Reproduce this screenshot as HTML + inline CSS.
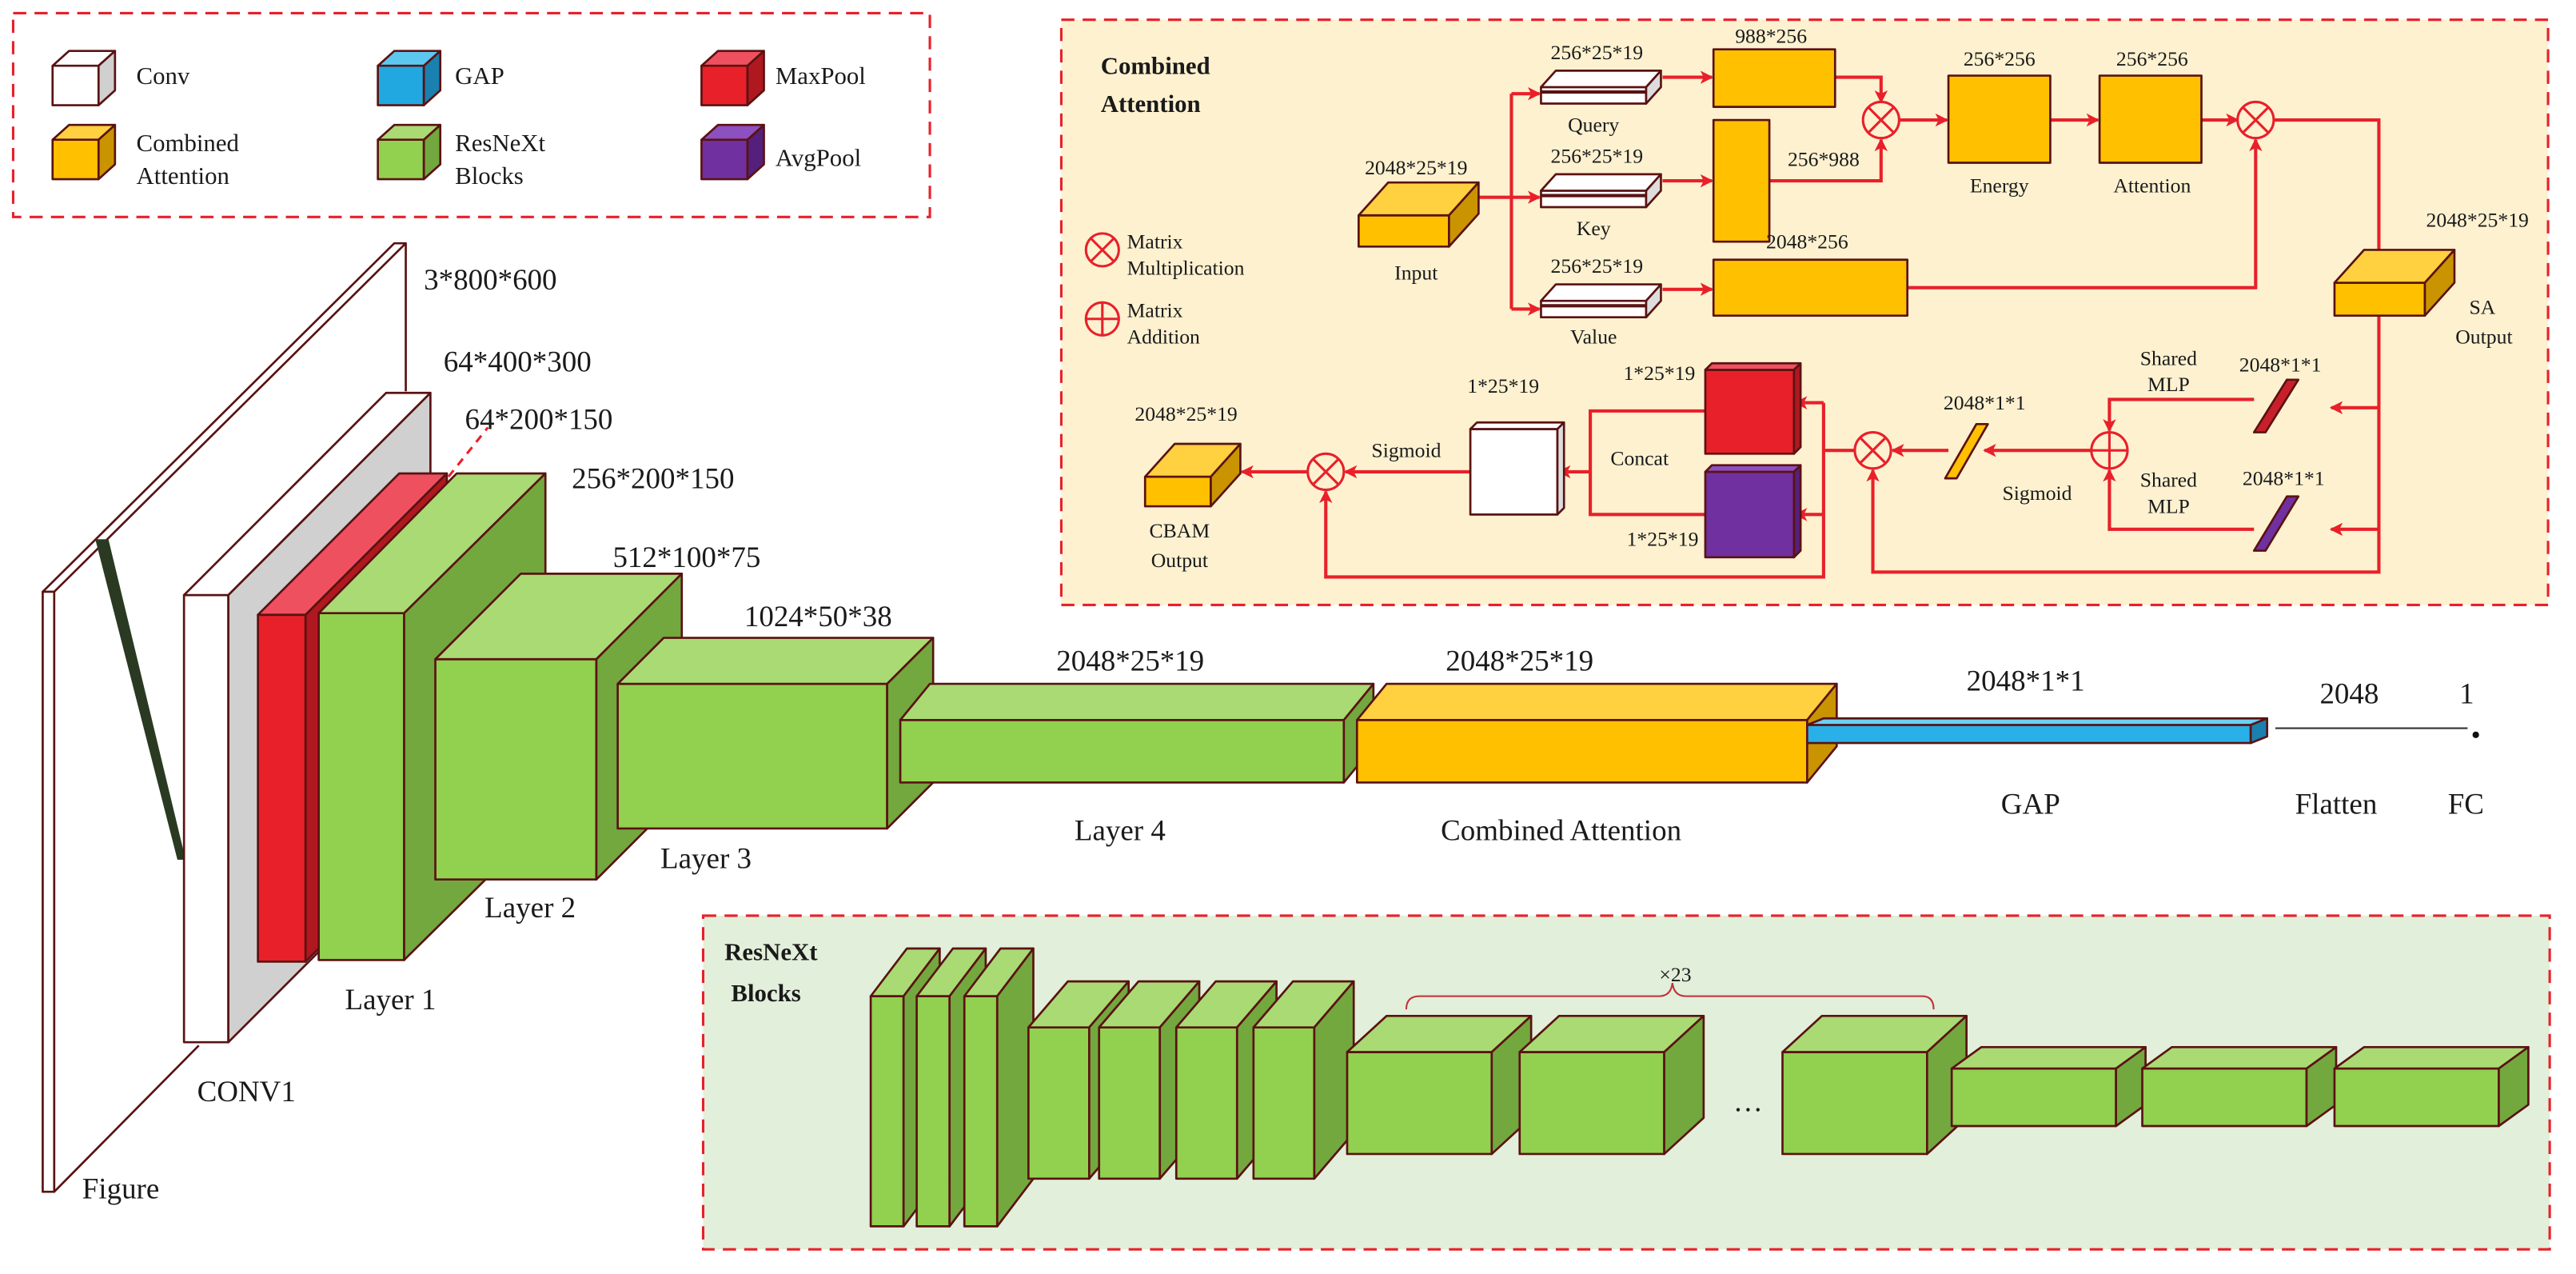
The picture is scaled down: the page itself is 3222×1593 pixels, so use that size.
<!DOCTYPE html>
<html><head><meta charset="utf-8"><style>
html,body{margin:0;padding:0;background:#fff;}
svg{display:block;font-family:"Liberation Serif",serif;}
text{font-family:"Liberation Serif",serif;fill:#1a1a1a;}
.m{font-size:18px;font-family:"Liberation Serif",serif;}
.s{font-size:12.5px;font-family:"Liberation Serif",serif;}
.l{font-size:15px;font-family:"Liberation Serif",serif;}
.b{font-weight:bold;}
.k{stroke:#5a1212;stroke-width:1.3;stroke-linejoin:round;}
.r{stroke:#e8202a;stroke-width:2;fill:none;}
</style></head><body>
<svg width="3222" height="1593" viewBox="0 0 1568 775" preserveAspectRatio="none" xmlns="http://www.w3.org/2000/svg" font-family="Liberation Serif, serif">
<defs>
<marker id="a" markerWidth="8" markerHeight="8" refX="7" refY="4" orient="auto" markerUnits="userSpaceOnUse"><path d="M0,0 L8,4 L0,8 L2,4 z" fill="#e8202a"/></marker>
</defs>
<rect width="1568" height="775" fill="#fff"/>

<!-- Legend -->
<rect x="8" y="8" width="558" height="124" fill="none" stroke="#e8202a" stroke-width="1.5" stroke-dasharray="8,5"/>
<g class="k">
<rect x="32" y="40" width="28" height="24" fill="#fff"/><polygon points="32,40 42,31 70,31 60,40" fill="#fff"/><polygon points="60,40 70,31 70,55 60,64" fill="#d0d0d0"/>
<rect x="32" y="85" width="28" height="24" fill="#ffc000"/><polygon points="32,85 42,76 70,76 60,85" fill="#ffd040"/><polygon points="60,85 70,76 70,100 60,109" fill="#c99400"/>
<rect x="230" y="40" width="28" height="24" fill="#22a8e0"/><polygon points="230,40 240,31 268,31 258,40" fill="#5cc8f0"/><polygon points="258,40 268,31 268,55 258,64" fill="#1a80b0"/>
<rect x="230" y="85" width="28" height="24" fill="#92d050"/><polygon points="230,85 240,76 268,76 258,85" fill="#a9da74"/><polygon points="258,85 268,76 268,100 258,109" fill="#72a83e"/>
<rect x="427" y="40" width="28" height="24" fill="#e8202a"/><polygon points="427,40 437,31 465,31 455,40" fill="#ee5060"/><polygon points="455,40 465,31 465,55 455,64" fill="#b01820"/>
<rect x="427" y="85" width="28" height="24" fill="#7030a0"/><polygon points="427,85 437,76 465,76 455,85" fill="#8c50c0"/><polygon points="455,85 465,76 465,100 455,109" fill="#55207c"/>
</g>
<text class="l" x="83" y="51">Conv</text>
<text class="l" x="83" y="92">Combined</text><text class="l" x="83" y="112">Attention</text>
<text class="l" x="277" y="51">GAP</text>
<text class="l" x="277" y="92">ResNeXt</text><text class="l" x="277" y="112">Blocks</text>
<text class="l" x="472" y="51">MaxPool</text>
<text class="l" x="472" y="101">AvgPool</text>

<!-- Attention box -->
<rect x="646" y="12" width="905" height="356" fill="#fdf1d0" stroke="#e8202a" stroke-width="1.5" stroke-dasharray="8,5"/>
<text class="l b" x="670" y="45">Combined</text><text class="l b" x="670" y="68">Attention</text>
<g stroke="#e8202a" stroke-width="1.5" fill="none">
<circle cx="671" cy="152" r="10"/><path d="M664,145 L678,159 M678,145 L664,159"/>
<circle cx="671" cy="194" r="10"/><path d="M661,194 L681,194 M671,184 L671,204"/>
</g>
<text class="s" x="686" y="151">Matrix</text><text class="s" x="686" y="167">Multiplication</text>
<text class="s" x="686" y="193">Matrix</text><text class="s" x="686" y="209">Addition</text>

<!-- connectors -->
<g class="r">
<path d="M900,120 L920,120"/>
<path d="M920,57 L920,188"/>
<path d="M920,57 L937,57" marker-end="url(#a)"/>
<path d="M920,120 L937,120" marker-end="url(#a)"/>
<path d="M920,188 L937,188" marker-end="url(#a)"/>
<path d="M1012,47 L1042,47" marker-end="url(#a)"/>
<path d="M1012,110 L1042,110" marker-end="url(#a)"/>
<path d="M1012,176 L1042,176" marker-end="url(#a)"/>
<path d="M1117,47 L1145,47 L1145,62" marker-end="url(#a)"/>
<path d="M1077,110 L1145,110 L1145,85" marker-end="url(#a)"/>
<path d="M1156,73 L1185,73" marker-end="url(#a)"/>
<path d="M1248,73 L1277,73" marker-end="url(#a)"/>
<path d="M1340,73 L1362,73" marker-end="url(#a)"/>
<path d="M1161,175 L1373,175 L1373,85" marker-end="url(#a)"/>
<path d="M1384,73 L1448,73 L1448,171" marker-end="url(#a)"/>
<path d="M1448,192 L1448,348 L1140,348 L1140,286" marker-end="url(#a)"/>
<path d="M1448,248 L1419,248" marker-end="url(#a)"/>
<path d="M1448,322 L1419,322" marker-end="url(#a)"/>
<path d="M1372,243 L1284,243 L1284,262" marker-end="url(#a)"/>
<path d="M1372,322 L1284,322 L1284,286" marker-end="url(#a)"/>
<path d="M1273,274 L1208,274" marker-end="url(#a)"/>
<path d="M1186,274 L1152,274" marker-end="url(#a)"/>
<path d="M1129,274 L1110,274"/>
<path d="M1110,245 L1110,351 L807,351 L807,299" marker-end="url(#a)"/>
<path d="M1110,245 L1093,245" marker-end="url(#a)"/>
<path d="M1110,313 L1093,313" marker-end="url(#a)"/>
<path d="M1038,250 L968,250 L968,313 L1038,313"/>
<path d="M968,287 L949,287" marker-end="url(#a)"/>
<path d="M895,287 L819,287" marker-end="url(#a)"/>
<path d="M796,287 L756,287" marker-end="url(#a)"/>
</g>
<g stroke="#e8202a" stroke-width="1.5" fill="#fdf1d0">
<circle cx="1145" cy="73" r="11"/><circle cx="1373" cy="73" r="11"/><circle cx="1140" cy="274" r="11"/><circle cx="807" cy="287" r="11"/><circle cx="1284" cy="274" r="11"/>
</g>
<g stroke="#e8202a" stroke-width="1.5">
<path d="M1137,65 L1153,81 M1153,65 L1137,81"/>
<path d="M1365,65 L1381,81 M1381,65 L1365,81"/>
<path d="M1132,266 L1148,282 M1148,266 L1132,282"/>
<path d="M799,279 L815,295 M815,279 L799,295"/>
<path d="M1273,274 L1295,274 M1284,263 L1284,285"/>
</g>

<g class="k">
<rect x="827" y="131" width="55" height="19" fill="#ffc000"/><polygon points="827,131 845,111 900,111 882,131" fill="#ffd040"/><polygon points="882,131 900,111 900,130 882,150" fill="#c99400"/>
<rect x="938" y="53" width="64" height="10" fill="#fff"/><polygon points="938,53 947,43 1011,43 1002,53" fill="#fff"/><polygon points="1002,53 1011,43 1011,53 1002,63" fill="#ddd"/>
<rect x="938" y="116" width="64" height="10" fill="#fff"/><polygon points="938,116 947,106 1011,106 1002,116" fill="#fff"/><polygon points="1002,116 1011,106 1011,116 1002,126" fill="#ddd"/>
<rect x="938" y="183" width="64" height="10" fill="#fff"/><polygon points="938,183 947,173 1011,173 1002,183" fill="#fff"/><polygon points="1002,183 1011,173 1011,183 1002,193" fill="#ddd"/>
<path d="M938,56 L1002,56 M938,119 L1002,119 M938,186 L1002,186" fill="none" stroke-width="2"/>
<rect x="1043" y="30" width="74" height="35" fill="#ffc000"/>
<rect x="1043" y="73" width="34" height="74" fill="#ffc000"/>
<rect x="1043" y="158" width="118" height="34" fill="#ffc000"/>
<rect x="1186" y="46" width="62" height="53" fill="#ffc000"/>
<rect x="1278" y="46" width="62" height="53" fill="#ffc000"/>
<rect x="1421" y="172" width="55" height="20" fill="#ffc000"/><polygon points="1421,172 1439,152 1494,152 1476,172" fill="#ffd040"/><polygon points="1476,172 1494,152 1494,172 1476,192" fill="#c99400"/>
<rect x="697" y="290" width="40" height="18" fill="#ffc000"/><polygon points="697,290 715,270 755,270 737,290" fill="#ffd040"/><polygon points="737,290 755,270 755,288 737,308" fill="#c99400"/>
<rect x="1038" y="225" width="54" height="51" fill="#e8202a"/><polygon points="1038,225 1042,221 1096,221 1092,225" fill="#ee5060"/><polygon points="1092,225 1096,221 1096,272 1092,276" fill="#b01820"/>
<rect x="1038" y="287" width="54" height="52" fill="#7030a0"/><polygon points="1038,287 1042,283 1096,283 1092,287" fill="#8c50c0"/><polygon points="1092,287 1096,283 1096,335 1092,339" fill="#55207c"/>
<rect x="895" y="261" width="53" height="52" fill="#fff"/><polygon points="895,261 899,257 952,257 948,261" fill="#fff"/><polygon points="948,261 952,257 952,309 948,313" fill="#ddd"/>
<polygon points="1372,263 1392,231 1399,231 1379,263" fill="#c8202a"/>
<polygon points="1372,335 1392,302 1399,302 1379,335" fill="#7030a0"/>
<polygon points="1184,291 1203,258 1210,258 1191,291" fill="#ffc000"/>
</g>
<g class="s" text-anchor="middle">
<text x="862" y="106">2048*25*19</text><text x="862" y="170">Input</text>
<text x="972" y="36">256*25*19</text><text x="970" y="80">Query</text>
<text x="972" y="99">256*25*19</text><text x="970" y="143">Key</text>
<text x="972" y="166">256*25*19</text><text x="970" y="209">Value</text>
<text x="1078" y="26">988*256</text>
<text x="1110" y="101">256*988</text>
<text x="1100" y="151">2048*256</text>
<text x="1217" y="40">256*256</text><text x="1217" y="117">Energy</text>
<text x="1310" y="40">256*256</text><text x="1310" y="117">Attention</text>
<text x="1508" y="138">2048*25*19</text><text x="1511" y="191">SA</text><text x="1512" y="209">Output</text>
<text x="1388" y="226">2048*1*1</text><text x="1390" y="295">2048*1*1</text>
<text x="1320" y="222">Shared</text><text x="1320" y="238">MLP</text>
<text x="1320" y="296">Shared</text><text x="1320" y="312">MLP</text>
<text x="1208" y="249">2048*1*1</text><text x="1240" y="304">Sigmoid</text>
<text x="1010" y="231">1*25*19</text><text x="1012" y="332">1*25*19</text>
<text x="915" y="239">1*25*19</text><text x="998" y="283">Concat</text>
<text x="856" y="278">Sigmoid</text>
<text x="722" y="256">2048*25*19</text><text x="718" y="327">CBAM</text><text x="718" y="345">Output</text>
</g>

<!-- Main network -->
<g class="k">
<polygon points="26,360 240,148 247,148 33,360" fill="#fff"/>
<rect x="26" y="360" width="7" height="365" fill="#fff"/>
<path d="M247,148 L247,238 M33,725 L121,636" fill="none"/>
<polygon points="58,328 66,328 113,523 108,523" fill="#2a3a22" stroke="none"/>
<rect x="112" y="362" width="27" height="272" fill="#fff"/><polygon points="112,362 235,239 262,239 139,362" fill="#fff"/><polygon points="139,362 262,239 262,511 139,634" fill="#d0d0d0"/>
<rect x="157" y="374" width="29" height="211" fill="#e8202a"/><polygon points="157,374 243,288 272,288 186,374" fill="#ee5060"/><polygon points="186,374 272,288 272,499 186,585" fill="#b01820"/>
<rect x="194" y="373" width="52" height="211" fill="#92d050"/><polygon points="194,373 278,288 332,288 246,373" fill="#a9da74"/><polygon points="246,373 332,288 332,499 246,584" fill="#72a83e"/>
<rect x="265" y="401" width="98" height="134" fill="#92d050"/><polygon points="265,401 317,349 415,349 363,401" fill="#a9da74"/><polygon points="363,401 415,349 415,483 363,535" fill="#72a83e"/>
<rect x="376" y="416" width="164" height="88" fill="#92d050"/><polygon points="376,416 404,388 568,388 540,416" fill="#a9da74"/><polygon points="540,416 568,388 568,476 540,504" fill="#72a83e"/>
<rect x="548" y="438" width="270" height="38" fill="#92d050"/><polygon points="548,438 566,416 836,416 818,438" fill="#a9da74"/><polygon points="818,438 836,416 836,454 818,476" fill="#72a83e"/>
<rect x="826" y="438" width="274" height="38" fill="#ffc000"/><polygon points="826,438 844,416 1118,416 1100,438" fill="#ffd040"/><polygon points="1100,438 1118,416 1118,454 1100,476" fill="#c99400"/>
<rect x="1100" y="441" width="270" height="11" fill="#2ab0e8"/><polygon points="1100,441 1110,437 1380,437 1370,441" fill="#6cd0f4"/><polygon points="1370,441 1380,437 1380,448 1370,452" fill="#1a80b0"/>
</g>
<path d="M1385,443 L1502,443" stroke="#333" stroke-width="1"/>
<circle cx="1507" cy="447" r="2" fill="#111"/>
<path d="M273,290 L297,260" stroke="#e8202a" stroke-width="1.5" stroke-dasharray="5,4"/>
<g class="m">
<text x="258" y="176">3*800*600</text>
<text x="270" y="226">64*400*300</text>
<text x="283" y="261">64*200*150</text>
<text x="348" y="297">256*200*150</text>
<text x="373" y="345">512*100*75</text>
<text x="453" y="381">1024*50*38</text>
<text x="643" y="408">2048*25*19</text>
<text x="880" y="408">2048*25*19</text>
<text x="1197" y="420">2048*1*1</text>
<text x="1412" y="428">2048</text><text x="1497" y="428">1</text>
<text x="50" y="729">Figure</text>
<text x="120" y="670">CONV1</text>
<text x="210" y="614">Layer 1</text>
<text x="295" y="558">Layer 2</text>
<text x="402" y="528">Layer 3</text>
<text x="654" y="511">Layer 4</text>
<text x="877" y="511">Combined Attention</text>
<text x="1218" y="495">GAP</text>
<text x="1397" y="495">Flatten</text>
<text x="1490" y="495">FC</text>
</g>

<!-- ResNeXt box -->
<rect x="428" y="557" width="1124" height="203" fill="#e2efda" stroke="#e8202a" stroke-width="1.5" stroke-dasharray="8,5"/>
<text class="l b" x="441" y="584">ResNeXt</text><text class="l b" x="445" y="609">Blocks</text>
<g class="k">
<rect x="530" y="606" width="20" height="140" fill="#92d050"/><polygon points="530,606 552,577 572,577 550,606" fill="#a9da74"/><polygon points="550,606 572,577 572,717 550,746" fill="#72a83e"/>
<rect x="558" y="606" width="20" height="140" fill="#92d050"/><polygon points="558,606 580,577 600,577 578,606" fill="#a9da74"/><polygon points="578,606 600,577 600,717 578,746" fill="#72a83e"/>
<rect x="587" y="606" width="20" height="140" fill="#92d050"/><polygon points="587,606 609,577 629,577 607,606" fill="#a9da74"/><polygon points="607,606 629,577 629,717 607,746" fill="#72a83e"/>
<rect x="626" y="625" width="37" height="92" fill="#92d050"/><polygon points="626,625 650,597 687,597 663,625" fill="#a9da74"/><polygon points="663,625 687,597 687,689 663,717" fill="#72a83e"/>
<rect x="669" y="625" width="37" height="92" fill="#92d050"/><polygon points="669,625 693,597 730,597 706,625" fill="#a9da74"/><polygon points="706,625 730,597 730,689 706,717" fill="#72a83e"/>
<rect x="716" y="625" width="37" height="92" fill="#92d050"/><polygon points="716,625 740,597 777,597 753,625" fill="#a9da74"/><polygon points="753,625 777,597 777,689 753,717" fill="#72a83e"/>
<rect x="763" y="625" width="37" height="92" fill="#92d050"/><polygon points="763,625 787,597 824,597 800,625" fill="#a9da74"/><polygon points="800,625 824,597 824,689 800,717" fill="#72a83e"/>
<rect x="820" y="640" width="88" height="62" fill="#92d050"/><polygon points="820,640 844,618 932,618 908,640" fill="#a9da74"/><polygon points="908,640 932,618 932,680 908,702" fill="#72a83e"/>
<rect x="925" y="640" width="88" height="62" fill="#92d050"/><polygon points="925,640 949,618 1037,618 1013,640" fill="#a9da74"/><polygon points="1013,640 1037,618 1037,680 1013,702" fill="#72a83e"/>
<rect x="1085" y="640" width="88" height="62" fill="#92d050"/><polygon points="1085,640 1109,618 1197,618 1173,640" fill="#a9da74"/><polygon points="1173,640 1197,618 1197,680 1173,702" fill="#72a83e"/>
<rect x="1188" y="650" width="100" height="35" fill="#92d050"/><polygon points="1188,650 1206,637 1306,637 1288,650" fill="#a9da74"/><polygon points="1288,650 1306,637 1306,672 1288,685" fill="#72a83e"/>
<rect x="1304" y="650" width="100" height="35" fill="#92d050"/><polygon points="1304,650 1322,637 1422,637 1404,650" fill="#a9da74"/><polygon points="1404,650 1422,637 1422,672 1404,685" fill="#72a83e"/>
<rect x="1421" y="650" width="100" height="35" fill="#92d050"/><polygon points="1421,650 1439,637 1539,637 1521,650" fill="#a9da74"/><polygon points="1521,650 1539,637 1539,672 1521,685" fill="#72a83e"/>
</g>
<text class="m" x="1055" y="676">…</text>
<path d="M856,614 Q856,606 864,606 L1010,606 Q1017,606 1018,598 Q1019,606 1026,606 L1170,606 Q1177,606 1177,614" fill="none" stroke="#c0303a" stroke-width="1"/>
<text class="s" x="1010" y="597">×23</text>
</svg>
</body></html>
